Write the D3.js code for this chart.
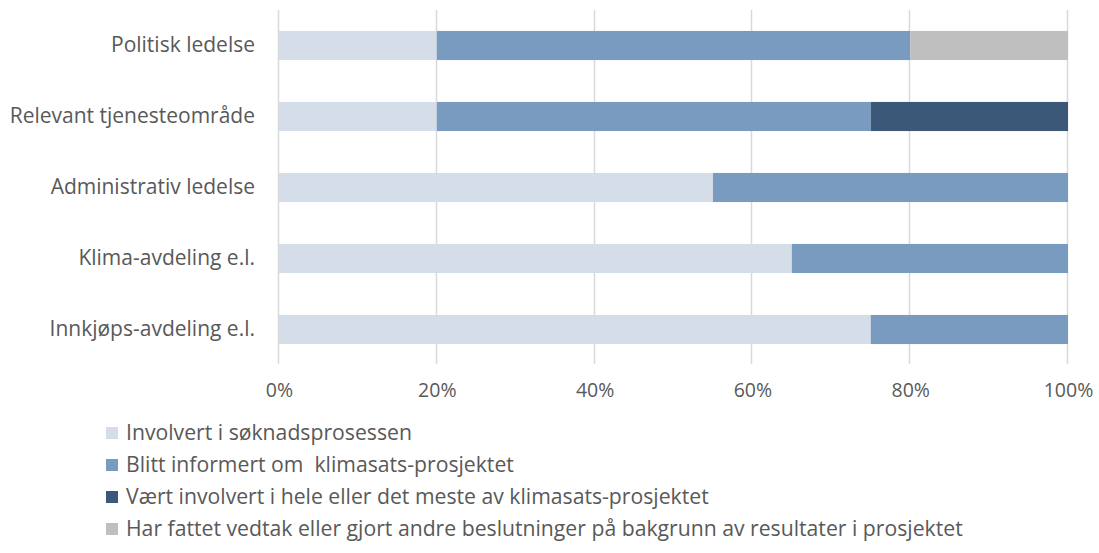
<!DOCTYPE html>
<html lang="no">
<head>
  <meta charset="utf-8">
  <title>Klimasats</title>
  <script src="https://cdn.jsdelivr.net/npm/d3@7"></script>
  <style>
    * { margin: 0; padding: 0; }
    body { background: #fff; }
    text { font-family: "Open Sans", sans-serif; fill: #595959; }
  </style>
</head>
<body>
  <div id="chart"></div>
  <script>
    var categories = ["Politisk ledelse", "Relevant tjenesteområde", "Administrativ ledelse", "Klima-avdeling e.l.", "Innkjøps-avdeling e.l."];
    var seriesNames = [
      "Involvert i søknadsprosessen",
      "Blitt informert om  klimasats-prosjektet",
      "Vært involvert i hele eller det meste av klimasats-prosjektet",
      "Har fattet vedtak eller gjort andre beslutninger på bakgrunn av resultater i prosjektet"
    ];
    var involvert = [0.20, 0.20, 0.55, 0.65, 0.75];
    var informert = [0.60, 0.55, 0.45, 0.35, 0.25];
    var helePro = [0.00, 0.25, 0.00, 0.00, 0.00];
    var vedtak = [0.20, 0.00, 0.00, 0.00, 0.00];
    var xTicks = [0, 0.2, 0.4, 0.6, 0.8, 1.0];
    var colors = ["#D5DEE8", "#799BBF", "#3B5878", "#BFBFBF"];

    var width = 1099, height = 553;
    var svg = d3.select("#chart").append("svg")
      .attr("width", width).attr("height", height);

    var x = d3.scaleLinear().domain([0, 1]).range([279, 1068]);
    var y = d3.scaleBand().domain(categories).range([10, 365])
      .paddingInner(0.59).paddingOuter(0.295);

    // gridlines
    svg.append("g").selectAll("line").data(xTicks).join("line")
      .attr("x1", function(d) { return Math.round(x(d)) - 0.5; })
      .attr("x2", function(d) { return Math.round(x(d)) - 0.5; })
      .attr("y1", 10).attr("y2", 364)
      .attr("stroke", "#D9D9D9").attr("stroke-width", 1.5);

    // stacked data
    var rows = categories.map(function(c, i) {
      return { cat: c, s0: involvert[i], s1: informert[i], s2: helePro[i], s3: vedtak[i] };
    });
    var stack = d3.stack().keys(["s0", "s1", "s2", "s3"])(rows);

    svg.append("g").selectAll("g").data(stack).join("g")
      .attr("fill", function(d, i) { return colors[i]; })
      .selectAll("rect").data(function(d) { return d; }).join("rect")
      .attr("x", function(d) { return x(d[0]); })
      .attr("width", function(d) { return x(d[1]) - x(d[0]); })
      .attr("y", function(d) { return y(d.data.cat); })
      .attr("height", y.bandwidth());

    // category labels
    var yAxis = d3.axisLeft(y).tickSize(0).tickPadding(0);
    var yG = svg.append("g").attr("transform", "translate(255,0)").call(yAxis);
    yG.select(".domain").remove();
    yG.selectAll("text").attr("font-size", "21px").attr("fill", "#595959")
      .style("font-family", "'Open Sans', sans-serif");

    // x axis labels
    var xAxis = d3.axisBottom(x).tickValues(xTicks).tickSize(0).tickPadding(0)
      .tickFormat(d3.format(".0%"));
    var xG = svg.append("g").attr("transform", "translate(0,383)").call(xAxis);
    xG.select(".domain").remove();
    xG.selectAll("text").attr("font-size", "19.5px").attr("fill", "#595959")
      .style("font-family", "'Open Sans', sans-serif");

    // legend
    var lg = svg.append("g").selectAll("g").data(seriesNames).join("g")
      .attr("transform", function(d, i) { return "translate(106," + (433 + i * 32) + ")"; });
    lg.append("rect").attr("x", 0).attr("y", -6).attr("width", 12).attr("height", 12)
      .attr("fill", function(d, i) { return colors[i]; });
    lg.append("text").attr("x", 20).attr("y", 0).attr("dy", "0.35em")
      .attr("font-size", "21.2px").style("white-space", "pre")
      .text(function(d) { return d; });
  </script>
</body>
</html>
